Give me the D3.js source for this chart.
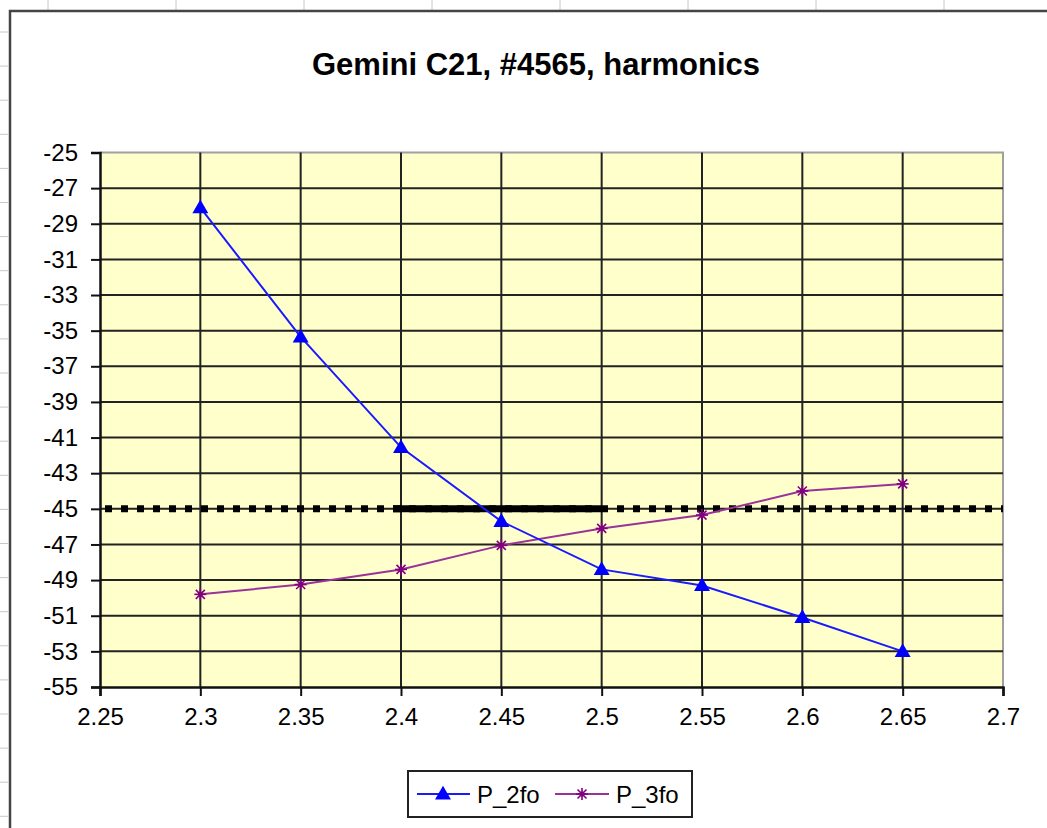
<!DOCTYPE html>
<html><head><meta charset="utf-8">
<script src="https://cdn.jsdelivr.net/npm/d3@7"></script>
<style>body{margin:0;background:#fff;}svg{display:block;font-family:"Liberation Sans",Arial,sans-serif;}</style>
</head><body>
<script>
const title = "Gemini C21, #4565, harmonics";
const freq = [2.3, 2.35, 2.4, 2.45, 2.5, 2.55, 2.6, 2.65];
const p2fo = [-28.1, -35.35, -41.55, -45.7, -48.4, -49.3, -51.1, -53.0];
const p3fo = [-49.8, -49.25, -48.4, -47.05, -46.1, -45.35, -44.0, -43.6];
const limitValue = -45;
const limitBand = [2.4, 2.5];
const xTicks = [2.25, 2.3, 2.35, 2.4, 2.45, 2.5, 2.55, 2.6, 2.65, 2.7];
const yTicks = [-55, -53, -51, -49, -47, -45, -43, -41, -39, -37, -35, -33, -31, -29, -27, -25];
const seriesNames = ["P_2fo", "P_3fo"];

const W = 1047, H = 828;
const svg = d3.select("body").append("svg").attr("width", W).attr("height", H);

// spreadsheet background marks
const colMarks = [48, 176, 304, 432, 560, 688, 816, 944];
svg.selectAll(".cm").data(colMarks).enter().append("line")
  .attr("x1", d => d).attr("x2", d => d).attr("y1", 0).attr("y2", 10)
  .attr("stroke", "#c8c8c8").attr("stroke-width", 1);
const rowMarks = d3.range(0, 24).map(i => 32 + i * 34.1);
svg.selectAll(".rm").data(rowMarks).enter().append("line")
  .attr("x1", 0).attr("x2", 8).attr("y1", d => d).attr("y2", d => d)
  .attr("stroke", "#c8c8c8").attr("stroke-width", 1);
// chart area border
svg.append("path").attr("d", `M10,${H} V11 H${W}`).attr("fill", "none")
  .attr("stroke", "#444").attr("stroke-width", 2.5);

const x = d3.scaleLinear().domain([2.25, 2.7]).range([100, 1003]);
const y = d3.scaleLinear().domain([-55, -25]).range([687, 152.5]);

// plot area
svg.append("rect").attr("x", x(2.25)).attr("y", y(-25))
  .attr("width", x(2.7) - x(2.25)).attr("height", y(-55) - y(-25))
  .attr("fill", "#ffffcc");
// plot border (top/right gray)
svg.append("path").attr("d", `M${x(2.25)},${y(-25)} H${x(2.7)} V${y(-55)}`)
  .attr("fill", "none").attr("stroke", "#a0a0a0").attr("stroke-width", 2);

// gridlines
svg.append("g").selectAll("line").data(yTicks.filter(v => v > -55 && v < -25)).enter().append("line")
  .attr("x1", x(2.25)).attr("x2", x(2.7)).attr("y1", d => y(d)).attr("y2", d => y(d))
  .attr("stroke", "#222").attr("stroke-width", 2);
svg.append("g").selectAll("line").data(xTicks.filter(v => v > 2.25 && v < 2.7)).enter().append("line")
  .attr("y1", y(-25)).attr("y2", y(-55)).attr("x1", d => x(d)).attr("x2", d => x(d))
  .attr("stroke", "#222").attr("stroke-width", 2);

// axes
const yAxis = d3.axisLeft(y).tickValues(yTicks).tickSize(9).tickPadding(13).tickFormat(d => String(d));
const gy = svg.append("g").attr("transform", `translate(${x(2.25)},0)`).call(yAxis);
gy.select(".domain").attr("stroke", "#111").attr("stroke-width", 2.5);
gy.selectAll(".tick line").attr("stroke", "#111").attr("stroke-width", 2);
gy.selectAll(".tick text").attr("font-size", 24).attr("fill", "#000").attr("font-family", "Liberation Sans, Arial, sans-serif");

const xAxis = d3.axisBottom(x).tickValues(xTicks).tickSize(9).tickPadding(12).tickFormat(d => String(d));
const gx = svg.append("g").attr("transform", `translate(0,${y(-55)})`).call(xAxis);
gx.select(".domain").attr("stroke", "#111").attr("stroke-width", 2.5);
gx.selectAll(".tick line").attr("stroke", "#111").attr("stroke-width", 2);
gx.selectAll(".tick text").attr("font-size", 24).attr("fill", "#000").attr("font-family", "Liberation Sans, Arial, sans-serif");

// limit line (dotted squares) and thick band
svg.append("line").attr("x1", x(2.25)).attr("x2", x(2.7))
  .attr("y1", y(limitValue)).attr("y2", y(limitValue))
  .attr("stroke", "#000").attr("stroke-width", 7)
  .attr("stroke-dasharray", "7 9").attr("stroke-dashoffset", 11);
svg.append("line").attr("x1", x(limitBand[0]) - 8).attr("x2", x(limitBand[1]))
  .attr("y1", y(limitValue)).attr("y2", y(limitValue))
  .attr("stroke", "#000").attr("stroke-width", 7);

// series
const line = d3.line().x(d => x(d[0])).y(d => y(d[1]));
const d2 = freq.map((f, i) => [f, p2fo[i]]);
const d3s = freq.map((f, i) => [f, p3fo[i]]);
svg.append("path").datum(d3s).attr("d", line).attr("fill", "none")
  .attr("stroke", "#993399").attr("stroke-width", 2);
svg.append("path").datum(d2).attr("d", line).attr("fill", "none")
  .attr("stroke", "#1a1aff").attr("stroke-width", 2);

const tri = d3.symbol().type(d3.symbolTriangle).size(110);
function star(g, cx, cy, r, color) {
  const s = g.append("g").attr("transform", `translate(${cx},${cy})`);
  [[-r, 0, r, 0], [0, -r, 0, r], [-r * 0.75, -r * 0.75, r * 0.75, r * 0.75], [-r * 0.75, r * 0.75, r * 0.75, -r * 0.75]].forEach(l => {
    s.append("line").attr("x1", l[0]).attr("y1", l[1]).attr("x2", l[2]).attr("y2", l[3])
      .attr("stroke", color).attr("stroke-width", 1.6);
  });
  s.append("circle").attr("r", 2.5).attr("fill", color);
}
d3s.forEach(d => star(svg, x(d[0]), y(d[1]), 6, "#800080"));
svg.selectAll(".tri").data(d2).enter().append("path")
  .attr("d", tri).attr("fill", "#0000ff")
  .attr("transform", d => `translate(${x(d[0])},${y(d[1]) + 1})`);

// title
svg.append("text").attr("x", 536).attr("y", 75).attr("text-anchor", "middle")
  .attr("font-size", 31).attr("font-weight", "bold").attr("fill", "#000").text(title);

// legend
const lg = svg.append("g");
lg.append("rect").attr("x", 408).attr("y", 771).attr("width", 284).attr("height", 46)
  .attr("fill", "#fff").attr("stroke", "#222").attr("stroke-width", 2);
lg.append("line").attr("x1", 417).attr("x2", 470).attr("y1", 794).attr("y2", 794).attr("stroke", "#1a1aff").attr("stroke-width", 2);
lg.append("path").attr("d", tri).attr("fill", "#0000ff").attr("transform", "translate(443,795)");
lg.append("text").attr("x", 477).attr("y", 803).attr("font-size", 24).text(seriesNames[0]);
lg.append("line").attr("x1", 555).attr("x2", 609).attr("y1", 794).attr("y2", 794).attr("stroke", "#993399").attr("stroke-width", 2);
star(lg, 582, 794, 6, "#800080");
lg.append("text").attr("x", 616).attr("y", 803).attr("font-size", 24).text(seriesNames[1]);
</script>
</body></html>
